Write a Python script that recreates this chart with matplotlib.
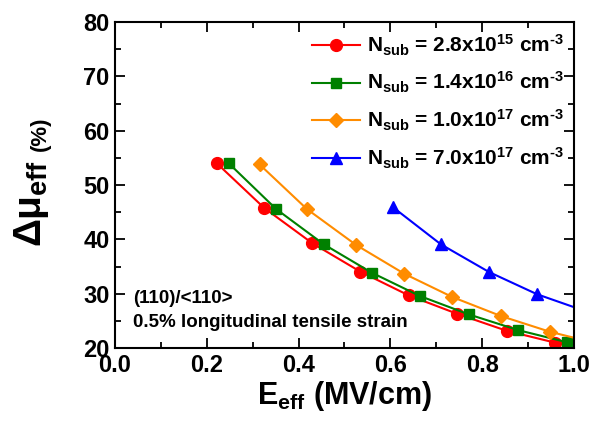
# Mobility enhancement vs effective field for several substrate dopings
import numpy as np
import matplotlib.pyplot as plt
from matplotlib.ticker import MultipleLocator

plt.rcParams['font.family'] = 'Liberation Sans'
plt.rcParams['font.weight'] = 'bold'
plt.rcParams['axes.labelweight'] = 'bold'
plt.rcParams['mathtext.fontset'] = 'custom'
plt.rcParams['mathtext.rm'] = 'Liberation Sans:bold'
plt.rcParams['mathtext.it'] = 'Liberation Sans:bold'
plt.rcParams['mathtext.bf'] = 'Liberation Sans:bold'

# data
e_28e15 = [0.222, 0.325, 0.430, 0.534, 0.640, 0.746, 0.853, 0.959]
mu_28e15 = [54.0, 45.8, 39.3, 34.1, 29.7, 26.3, 23.2, 21.0]
e_14e16 = [0.248, 0.351, 0.455, 0.559, 0.664, 0.771, 0.879, 0.984]
mu_14e16 = [54.0, 45.6, 39.1, 33.9, 29.6, 26.2, 23.3, 21.1]
e_10e17 = [0.315, 0.418, 0.525, 0.630, 0.735, 0.841, 0.948, 1.053]
mu_10e17 = [53.8, 45.6, 39.0, 33.7, 29.4, 25.9, 23.0, 20.8]
e_70e17 = [0.606, 0.710, 0.815, 0.920, 1.025]
mu_70e17 = [45.9, 39.1, 34.0, 29.9, 26.8]

labels = [r'N$_{\rm sub}$ = 2.8x10$^{15}$ cm$^{\text{-3}}$',
          r'N$_{\rm sub}$ = 1.4x10$^{16}$ cm$^{\text{-3}}$',
          r'N$_{\rm sub}$ = 1.0x10$^{17}$ cm$^{\text{-3}}$',
          r'N$_{\rm sub}$ = 7.0x10$^{17}$ cm$^{\text{-3}}$']

fig = plt.figure(figsize=(6.1, 4.33), dpi=100)
ax = fig.add_axes([0.1885, 0.196, 0.7525, 0.753])

ax.plot(e_28e15, mu_28e15, '-o', color='#ff0000', ms=8.5, lw=1.5, label=labels[0])
ax.plot(e_14e16, mu_14e16, '-s', color='#008000', ms=7.5, lw=1.5, label=labels[1])
ax.plot(e_10e17, mu_10e17, '-D', color='#ff8c00', ms=7.5, lw=1.5, label=labels[2])
ax.plot(e_70e17, mu_70e17, '-^', color='#0000ff', ms=9, lw=1.5, label=labels[3])

ax.set_xlim(0.0, 1.0)
ax.set_ylim(20, 80)
ax.xaxis.set_major_locator(MultipleLocator(0.2))
ax.xaxis.set_minor_locator(MultipleLocator(0.1))
ax.yaxis.set_major_locator(MultipleLocator(10))
ax.yaxis.set_minor_locator(MultipleLocator(5))
ax.xaxis.set_major_formatter(plt.FormatStrFormatter('%.1f'))
ax.tick_params(which='both', direction='in', top=True, right=True, width=1.3)
ax.tick_params(which='major', length=7, labelsize=17, pad=4)
ax.tick_params(which='minor', length=4)
for s in ax.spines.values():
    s.set_linewidth(1.5)

ax.set_xlabel(r'E$_{\rm eff}$ (MV/cm)', fontsize=22, labelpad=2)

# y label: large symbol with a smaller unit
fig.text(0.052, 0.53, r'$\Delta\mu_{\rm eff}$', rotation=90, fontsize=28,
         ha='center', va='center')
fig.text(0.066, 0.69, '(%)', rotation=90, fontsize=16, ha='center', va='center')

ax.text(0.04, 0.153, '(110)/<110>', transform=ax.transAxes, fontsize=13.5, va='center')
ax.text(0.04, 0.08, '0.5% longitudinal tensile strain', transform=ax.transAxes,
        fontsize=13.5, va='center')

ax.legend(loc='upper right', frameon=False, fontsize=15, handlelength=2.3,
          handletextpad=0.3, labelspacing=0.6, borderaxespad=0.1,
          bbox_to_anchor=(1.0, 1.0))

plt.savefig('out.png', dpi=100)
